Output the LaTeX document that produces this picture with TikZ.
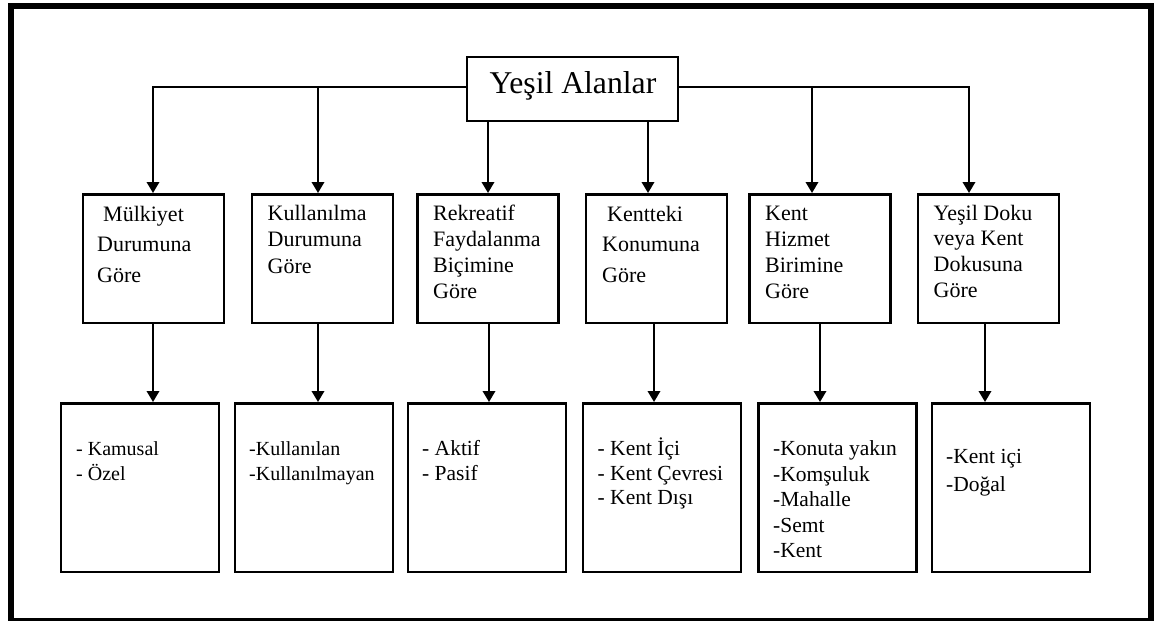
\documentclass[tikz,border=0pt]{standalone}
\usepackage{fontspec}
\setmainfont{Liberation Serif}
\usetikzlibrary{arrows.meta}
\begin{document}
\begin{tikzpicture}[x=1pt,y=-1pt,
  frame/.style={line width=6pt},
  topbox/.style={draw, line width=2.2pt, minimum width=211pt, minimum height=64pt, inner sep=0pt},
  midbox/.style={draw, line width=2.5pt, minimum width=141pt, minimum height=128.5pt, inner sep=0pt},
  lowbox/.style={draw, line width=2.5pt, minimum width=158pt, minimum height=168.5pt, inner sep=0pt},
  conn/.style={line width=2pt, -{Triangle[length=11pt,width=12.5pt]}},
  midtxt/.style={anchor=base west, inner sep=0pt, font=\fontsize{22}{26}\selectfont},
  lowtxt/.style={anchor=base west, inner sep=0pt, font=\fontsize{20}{24}\selectfont},
  lowtxtb/.style={anchor=base west, inner sep=0pt, font=\fontsize{21.5}{25}\selectfont},
  toptxt/.style={inner sep=0pt, font=\fontsize{31.7}{36}\selectfont}]
\useasboundingbox (0,0) rectangle (1154,621);
\fill[white] (0,0) rectangle (1154,621);
\draw[frame] (11,6) rectangle (1151,621);

% top
\node[topbox] (top) at (572.5,89) {};
\node[toptxt, anchor=base] (toplbl) at (573,93.3) {Yeşil Alanlar};

% middle boxes
\node[midbox] (m1) at (153.5,258.5) {};
\node[midbox] (m2) at (322.5,258.5) {};
\node[midbox] (m3) at (488,258.5) {};
\node[midbox] (m4) at (656.5,258.5) {};
\node[midbox] (m5) at (820,258.5) {};
\node[midbox] (m6) at (988.5,258.5) {};

% bottom boxes
\node[lowbox] (b1) at (140,487.5) {};
\node[lowbox] (b2) at (314,487.5) {};
\node[lowbox] (b3) at (487,487.5) {};
\node[lowbox] (b4) at (662,487.5) {};
\node[lowbox] (b5) at (837.5,487.5) {};
\node[lowbox] (b6) at (1011,487.5) {};

% middle texts
\node[midtxt] (m1a) at (103,221) {Mülkiyet};
\node[midtxt] (m1b) at (97,251.5) {Durumuna};
\node[midtxt] (m1c) at (97,282) {Göre};

\node[midtxt] (m2a) at (267.5,220.5) {Kullanılma};
\node[midtxt] (m2b) at (267.5,246.5) {Durumuna};
\node[midtxt] (m2c) at (267.5,273) {Göre};

\node[midtxt] (m3a) at (433,220.5) {Rekreatif};
\node[midtxt] (m3b) at (433,246.5) {Faydalanma};
\node[midtxt] (m3c) at (433,272.5) {Biçimine};
\node[midtxt] (m3d) at (433,298.5) {Göre};

\node[midtxt] (m4a) at (607,221) {Kentteki};
\node[midtxt] (m4b) at (602,251.5) {Konumuna};
\node[midtxt] (m4c) at (602,282) {Göre};

\node[midtxt] (m5a) at (765,220.5) {Kent};
\node[midtxt] (m5b) at (765,246.5) {Hizmet};
\node[midtxt] (m5c) at (765,272.5) {Birimine};
\node[midtxt] (m5d) at (765,298.5) {Göre};

\node[midtxt] (m6a) at (933.5,220.5) {Yeşil Doku};
\node[midtxt] (m6b) at (933.5,245.5) {veya Kent};
\node[midtxt] (m6c) at (933.5,271) {Dokusuna};
\node[midtxt] (m6d) at (933.5,297) {Göre};

% bottom texts
\node[lowtxt] (b1a) at (76,455.5) {- Kamusal};
\node[lowtxt] (b1b) at (76,480) {- Özel};

\node[lowtxt] (b2a) at (249,455.5) {-Kullanılan};
\node[lowtxt] (b2b) at (249,480) {-Kullanılmayan};

\node[lowtxtb] (b3a) at (422,455.5) {- Aktif};
\node[lowtxtb] (b3b) at (422,480.5) {- Pasif};

\node[lowtxtb] (b4a) at (597.5,455.5) {- Kent İçi};
\node[lowtxtb] (b4b) at (597.5,480) {- Kent Çevresi};
\node[lowtxtb] (b4c) at (597.5,504.5) {- Kent Dışı};

\node[lowtxtb] (b5a) at (773,455.5) {-Konuta yakın};
\node[lowtxtb] (b5b) at (773,481) {-Komşuluk};
\node[lowtxtb] (b5c) at (773,506.5) {-Mahalle};
\node[lowtxtb] (b5d) at (773,532) {-Semt};
\node[lowtxtb] (b5e) at (773,557.5) {-Kent};

\node[lowtxtb] (b6a) at (946,463) {-Kent içi};
\node[lowtxtb] (b6b) at (946,491) {-Doğal};

% connectors from top
\coordinate (j2) at (318,87);
\coordinate (j5) at (812,87);
\draw[conn] (top.west |- 0,87) -| (m1.north -| 153,0);
\draw[conn] (j2) -- (m2.north -| j2);
\draw[conn] (top.south -| m3.north) -- (m3.north);
\draw[conn] (top.south -| 648,0) -- (m4.north -| 648,0);
\draw[conn] (j5) -- (m5.north -| j5);
\draw[conn] (top.east |- 0,87) -| (m6.north -| 969,0);

% connectors middle to bottom
\draw[conn] (m1.south -| 153,0) -- (b1.north -| 153,0);
\draw[conn] (m2.south -| 318,0) -- (b2.north -| 318,0);
\draw[conn] (m3.south -| 489,0) -- (b3.north -| 489,0);
\draw[conn] (m4.south -| 654,0) -- (b4.north -| 654,0);
\draw[conn] (m5.south) -- (b5.north -| m5.south);
\draw[conn] (m6.south -| 985,0) -- (b6.north -| 985,0);
\end{tikzpicture}
\end{document}
